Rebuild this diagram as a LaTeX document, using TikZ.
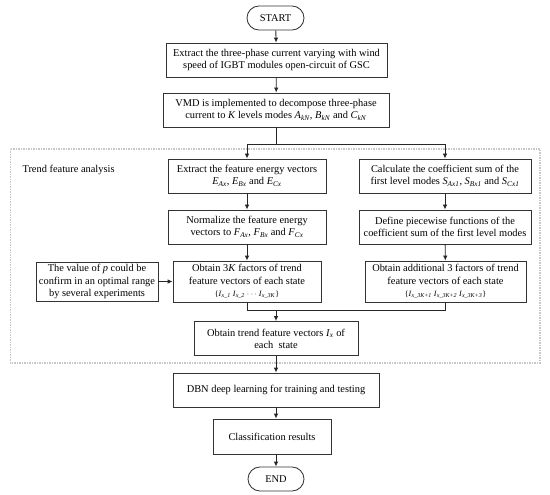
\documentclass[tikz,border=0pt]{standalone}
\usepackage{fontspec}
\setmainfont{Liberation Serif}
\usetikzlibrary{arrows.meta}
\newcommand{\vsb}[2]{\textit{#1}\textsubscript{\textit{#2}}}
\tikzset{
  box/.style={draw=black!80, line width=0.85pt, inner sep=1pt, align=center, font=\fontsize{10.4}{12.2}\selectfont},
  term/.style={box, rounded corners=12pt},
  arr/.style={draw=black!85, line width=0.85pt, -{Latex[length=5pt,width=4.5pt]}},
  ln/.style={draw=black!85, line width=0.85pt},
  frame/.style={draw=black!22, line width=1.4pt, dash pattern=on 1.5pt off 1pt}
}
\begin{document}
\begin{tikzpicture}[x=1pt,y=-1pt]
\useasboundingbox (0,0) rectangle (550,495);
\draw[frame] (10.5,149) rectangle (540,363);
\node[anchor=west, font=\fontsize{10.4}{12.2}\selectfont] (tfa) at (19,170) {Trend feature analysis};

\node[term, minimum width=57pt, minimum height=24pt] (start) at (275.5,18) {START};
\node[box, minimum width=221pt, minimum height=34pt] (b1) at (276.5,60) {Extract the three-phase current varying with wind\\speed of IGBT modules open-circuit of GSC};
\node[box, minimum width=226pt, minimum height=34pt] (b2) at (276,110) {VMD is implemented to decompose three-phase\\current to \textit{K} levels modes \vsb{A}{kN}, \vsb{B}{kN} and \vsb{C}{kN}};
\node[box, minimum width=158pt, minimum height=34pt] (ext) at (247,176) {Extract the feature energy vectors\\\vsb{E}{Ax}, \vsb{E}{Bx} and \vsb{E}{Cx}};
\node[box, minimum width=172pt, minimum height=34pt] (calc) at (445,176) {Calculate the coefficient sum of the\\first level modes \vsb{S}{Ax1}, \vsb{S}{Bx1} and \vsb{S}{Cx1}};
\node[box, minimum width=158pt, minimum height=34pt] (norm) at (247,227) {Normalize the feature energy\\vectors to \vsb{F}{Ax}, \vsb{F}{Bx} and \vsb{F}{Cx}};
\node[box, minimum width=172pt, minimum height=34pt] (def) at (445,227) {Define piecewise functions of the\\coefficient sum of the first level modes};
\node[box, minimum width=148pt, minimum height=41pt] (o3k) at (247,281.5) {Obtain 3\textit{K} factors of trend\\feature vectors of each state\\{\footnotesize\{\vsb{I}{x\_1} \vsb{I}{x\_2} $\cdots$ \vsb{I}{x\_3K}\}}};
\node[box, minimum width=161pt, minimum height=41pt] (add) at (445.5,281.5) {Obtain additional 3 factors of trend\\feature vectors of each state\\{\footnotesize\{\vsb{I}{x\_3K+1} \vsb{I}{x\_3K+2} \vsb{I}{x\_3K+3}\}}};
\node[box, minimum width=122pt, minimum height=39pt] (pb) at (97,281.5) {The value of \textit{p} could be\\confirm in an optimal range\\by several experiments};
\node[box, minimum width=164pt, minimum height=34pt] (tr) at (276,338.5) {Obtain trend feature vectors \vsb{I}{x} of\\each\ \ state};
\node[box, minimum width=206pt, minimum height=34pt] (dbn) at (276,390) {DBN deep learning for training and testing};
\node[box, minimum width=118pt, minimum height=35pt] (cls) at (272,436.5) {Classification results};
\node[term, minimum width=56pt, minimum height=24pt] (end) at (276,479) {END};

\coordinate (split) at (276,144);
\coordinate (join) at (276,310);

\draw[arr] (start) -- (b1);
\draw[arr] (b1) -- (b2);
\draw[ln] (b2.south) -- (split);
\draw[arr] (split) -| (ext.north);
\draw[arr] (split) -| (calc.north);
\draw[arr] (ext) -- (norm);
\draw[arr] (norm) -- (o3k);
\draw[arr] (calc) -- (def);
\draw[arr] (def) -- (add);
\draw[arr] (pb) -- (o3k);
\draw[ln] (o3k.south) |- (join);
\draw[ln] (add.south) |- (join);
\draw[arr] (join) -- (tr.north);
\draw[arr] (tr) -- (dbn);
\draw[arr] (dbn.south) -- (dbn.south |- cls.north);
\draw[arr] (cls.south -| end.north) -- (end.north);
\end{tikzpicture}
\end{document}
